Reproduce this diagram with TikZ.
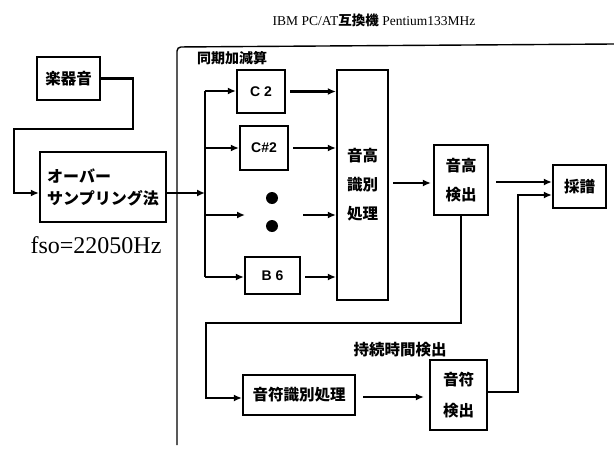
\documentclass[tikz,border=0pt]{standalone}
\usepackage{fontspec}
\setmainfont{Liberation Serif}
\newfontfamily\jp{Noto Sans CJK JP}
\newfontfamily\lab{Liberation Sans}
\usetikzlibrary{arrows.meta,calc}
\begin{document}
\begin{tikzpicture}[x=1pt,y=-1pt,
    blk/.style={draw,line width=2.2pt,inner sep=0pt,font=\jp\bfseries\fontsize{15.5}{29}\selectfont},
    lbl/.style={blk,font=\lab\bfseries\fontsize{14}{16}\selectfont},
    ln/.style={line width=2.2pt},
    ar/.style={ln,-{Latex[length=8pt,width=7pt]}},
    dt/.style={circle,fill=black,inner sep=0pt,minimum size=12pt}]
  \useasboundingbox (0,0) rectangle (614,450);
  % texts
  \node (title) at (374,20) {\fontsize{13.5}{15}\selectfont IBM PC/AT{\jp\bfseries 互換機} Pentium133MHz};
  \node[font=\jp\bfseries\fontsize{14}{15}\selectfont] (sync) at (232,58) {同期加減算};
  \node[font=\jp\bfseries\fontsize{15.5}{16}\selectfont] (dur) at (400,350) {持続時間検出};
  \node[font=\fontsize{24}{26}\selectfont] (fso) at (96,245) {fso=22050Hz};
  % frame of the PC
  \draw[line width=1.4pt,rounded corners=4pt] (177,445) -- (177,47) -- (614,44);
  % blocks
  \node[blk,minimum width=63pt,minimum height=43pt] (gakki) at (68.5,78.5) {楽器音};
  \node[blk,minimum width=126pt,minimum height=70pt,align=left,
        font=\jp\bfseries\fontsize{16}{22}\selectfont] (over) at (103,187)
    {オーバー\\サンプリング法};
  \node[lbl,minimum width=48pt,minimum height=43pt] (c2) at (261,91.5) {C 2};
  \node[lbl,minimum width=48pt,minimum height=44pt] (cs2) at (264,148) {C\#2};
  \node[lbl,minimum width=55pt,minimum height=37pt] (b6) at (272.5,275.5) {B 6};
  \node[dt] (d1) at (272,198) {};
  \node[dt] (d2) at (272,226) {};
  \node[blk,minimum width=51pt,minimum height=230pt,align=center] (shiki) at (362.5,185)
    {音高\\識別\\処理};
  \node[blk,minimum width=54pt,minimum height=70pt,align=center] (onko) at (461,180)
    {音高\\検出};
  \node[blk,minimum width=53pt,minimum height=43pt] (saifu) at (579.5,186.5) {採譜};
  \node[blk,minimum width=112pt,minimum height=40pt] (onpu) at (299,395) {音符識別処理};
  \node[blk,minimum width=57pt,minimum height=70pt,align=center,
        font=\jp\bfseries\fontsize{15.5}{31}\selectfont] (onken) at (458.5,395)
    {音符\\検出};
  % bus
  \coordinate (bt) at (205,91);
  \coordinate (bb) at (205,277);
  \coordinate (bin) at (205,193);
  \coordinate (dl) at (245,215);
  \coordinate (dr) at (303,215);
  \draw[ln] (bt) -- (bb);
  % connectors
  \draw[ar] (gakki.east) -- (133,78.5) -- (133,129) -- (14,129) -- (14,193) -- (over.west |- bin);
  \draw[ar] (over.east |- bin) -- (bin);
  \draw[ar] (bt) -- (c2.west |- bt);
  \draw[ar] (bin |- cs2.west) -- (cs2.west);
  \draw[ar] (bin |- dl) -- (dl);
  \draw[ar] (bb) -- (b6.west |- bb);
  \draw[ar,shorten <=4pt] (c2.east) -- (shiki.west |- c2.east);
  \draw[ar,shorten <=4pt] (cs2.east) -- (shiki.west |- cs2.east);
  \draw[ar] (dr) -- (shiki.west |- dr);
  \draw[ar,shorten <=4pt] (b6.east |- bb) -- (shiki.west |- bb);
  \draw[ar,shorten <=4pt,shorten >=2pt] (shiki.east |- 0,183) -- (onko.west |- 0,183);
  \draw[ar,shorten <=7pt] (onko.east |- 0,182) -- (saifu.west |- 0,182);
  \draw[ar] (onko.south) -- (onko.south |- 0,323) -- (206,323) -- (206,398) -- (onpu.west |- 0,398);
  \draw[ar,shorten <=7pt,shorten >=5pt] (onpu.east |- 0,397) -- (onken.west |- 0,397);
  \draw[ar] (onken.east |- 0,392) -- (518,392) -- (518,195) -- (saifu.west |- 0,195);
\end{tikzpicture}
\end{document}
